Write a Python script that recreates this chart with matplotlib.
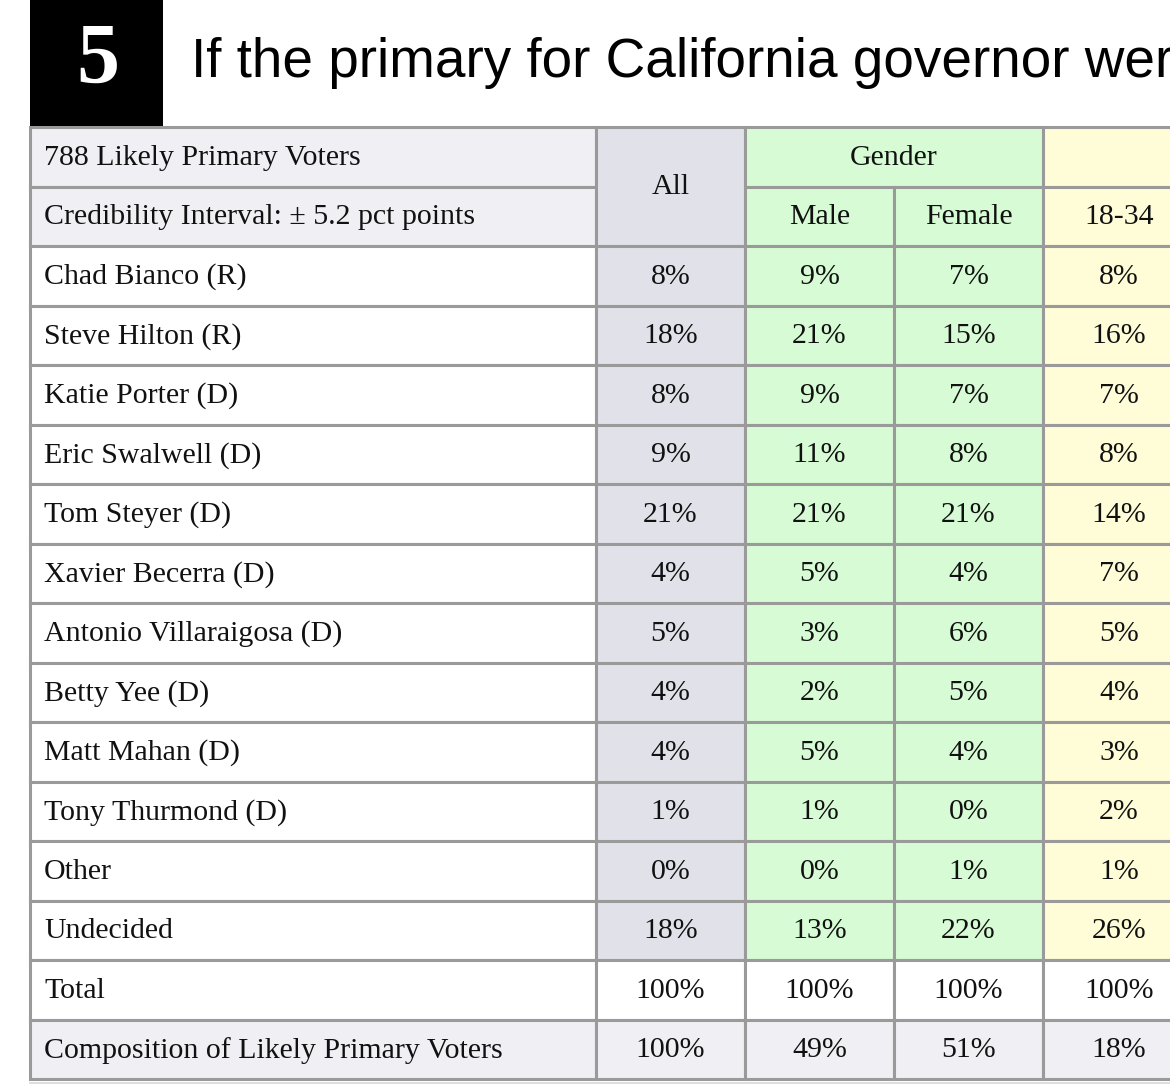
import matplotlib.pyplot as plt
from matplotlib.patches import Rectangle

# data
candidates = ['Chad Bianco (R)', 'Steve Hilton (R)', 'Katie Porter (D)', 'Eric Swalwell (D)',
              'Tom Steyer (D)', 'Xavier Becerra (D)', 'Antonio Villaraigosa (D)', 'Betty Yee (D)',
              'Matt Mahan (D)', 'Tony Thurmond (D)', 'Other', 'Undecided']
all_pct = [8, 18, 8, 9, 21, 4, 5, 4, 4, 1, 0, 18]
male = [9, 21, 9, 11, 21, 5, 3, 2, 5, 1, 0, 13]
female = [7, 15, 7, 8, 21, 4, 6, 5, 4, 0, 1, 22]
age_18_34 = [8, 16, 7, 8, 14, 7, 5, 4, 3, 2, 1, 26]
total = [100, 100, 100, 100]
composition = [100, 49, 51, 18]
sub_headers = ['Male', 'Female', '18-34']

# the reference is cropped on the right, the title runs off the picture
title = 'If the primary for California governor were held today, who would you vote for?'

# layout (pixels)
col_edges = [30, 596, 745, 894, 1043, 1195]
top = 127
row_h = 59.5
n_rows = 2 + len(candidates) + 2

c_label_hdr = '#efeff4'
c_all = '#e1e1ea'
c_green = '#d7fcd5'
c_yellow = '#fffdd7'
c_grid = '#9a9a9a'
lw = 2.2

fig = plt.figure(figsize=(11.7, 10.9), dpi=100)
ax = fig.add_axes([0, 0, 1, 1])
ax.set_xlim(0, 1170)
ax.set_ylim(1090, 0)
ax.axis('off')

serif = ['Liberation Serif', 'DejaVu Serif']


def cell(c0, c1, r0, r1, color, text=None, left=False):
    x0, x1 = col_edges[c0], col_edges[c1]
    y0, y1 = top + r0 * row_h, top + r1 * row_h
    ax.add_patch(Rectangle((x0, y0), x1 - x0, y1 - y0, facecolor=color,
                           edgecolor=c_grid, linewidth=lw, zorder=1))
    if text is not None:
        if left:
            ax.text(x0 + 14, (y0 + y1) / 2 + 1, text, ha='left', va='center',
                    fontsize=21.5, family=serif, color='#111111', zorder=3)
        else:
            ax.text((x0 + x1) / 2, (y0 + y1) / 2 + 1, text, ha='center', va='center',
                    fontsize=21.5, family=serif, color='#111111', zorder=3)


# title block
ax.add_patch(Rectangle((30, 0), 133, 126, facecolor='black', edgecolor='none', zorder=2))
ax.text(98, 62, '5', ha='center', va='center', fontsize=62, fontweight='bold',
        family=serif, color='white', zorder=3)
ax.text(191, 77, title, ha='left', va='baseline', fontsize=39.5,
        family=['Liberation Sans', 'DejaVu Sans'], color='black', zorder=3)

# header rows
cell(0, 1, 0, 1, c_label_hdr, '788 Likely Primary Voters', left=True)
cell(0, 1, 1, 2, c_label_hdr, 'Credibility Interval: \u00b1 5.2 pct points', left=True)
cell(1, 2, 0, 2, c_all, 'All')
cell(2, 4, 0, 1, c_green, 'Gender')
cell(4, 5, 0, 1, c_yellow)
cell(2, 3, 1, 2, c_green, sub_headers[0])
cell(3, 4, 1, 2, c_green, sub_headers[1])
cell(4, 5, 1, 2, c_yellow, sub_headers[2])

# candidate rows
for i, name in enumerate(candidates):
    r = 2 + i
    cell(0, 1, r, r + 1, 'white', name, left=True)
    cell(1, 2, r, r + 1, c_all, f'{all_pct[i]}%')
    cell(2, 3, r, r + 1, c_green, f'{male[i]}%')
    cell(3, 4, r, r + 1, c_green, f'{female[i]}%')
    cell(4, 5, r, r + 1, c_yellow, f'{age_18_34[i]}%')

# total row
r = 2 + len(candidates)
cell(0, 1, r, r + 1, 'white', 'Total', left=True)
for j, v in enumerate(total):
    cell(1 + j, 2 + j, r, r + 1, 'white', f'{v}%')

# composition row
r += 1
cell(0, 1, r, r + 1, c_label_hdr, 'Composition of Likely Primary Voters', left=True)
for j, v in enumerate(composition):
    cell(1 + j, 2 + j, r, r + 1, c_label_hdr, f'{v}%')

# faint shadow under the table
bottom = top + n_rows * row_h
ax.plot([30, 1170], [bottom + 4, bottom + 4], color='#d8d8d8', linewidth=1.2, zorder=0)

fig.savefig('out.png', dpi=100)
